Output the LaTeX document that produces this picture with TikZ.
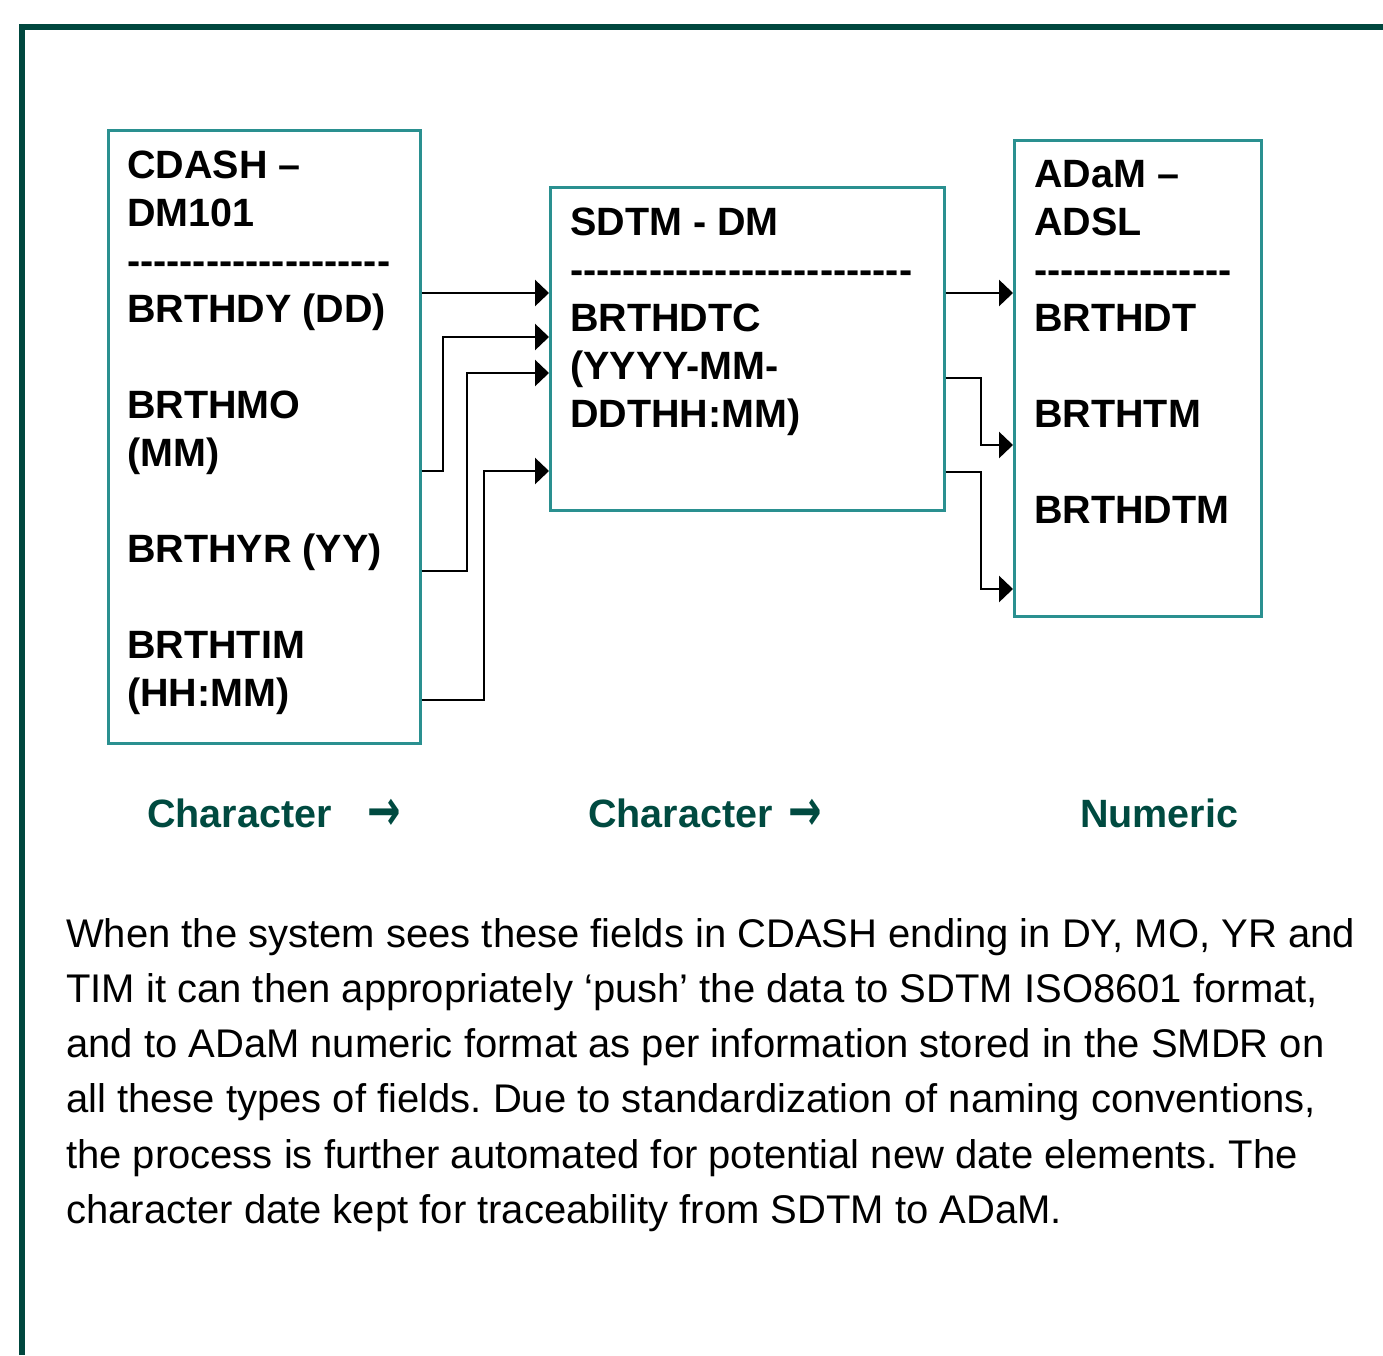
\documentclass[tikz,border=0pt]{standalone}
\usepackage{fontspec}
\setmainfont{Liberation Sans}
\newfontfamily\nolig{Liberation Sans}[Ligatures=TeXOff]
\newfontfamily\arrowfont{DejaVu Sans}
\usetikzlibrary{arrows.meta}
\definecolor{framecol}{HTML}{00473E}
\definecolor{boxcol}{HTML}{2A9090}
\definecolor{labcol}{HTML}{004A40}
\frenchspacing
\begin{document}
\begin{tikzpicture}[x=1pt,y=-1pt,
  box/.style={draw=boxcol, line width=2.6pt, anchor=north west, inner sep=0pt},
  hd/.style={anchor=base west, inner sep=0pt, font=\fontsize{39.5}{48}\selectfont\bfseries},
  dashline/.style={anchor=base west, inner sep=0pt, font=\nolig\fontsize{39.5}{48}\selectfont\bfseries},
  lab/.style={anchor=base west, inner sep=0pt, text=labcol, font=\fontsize{39.5}{48}\selectfont\bfseries},
  arr/.style={anchor=base west, inner sep=0pt, text=labcol, font=\arrowfont\fontsize{40}{48}\selectfont\bfseries},
  body/.style={anchor=base west, inner sep=0pt, font=\fontsize{40}{55}\selectfont},
  conn/.style={line width=2.8pt, -{Triangle[length=14pt,width=26pt]}},
  frame/.style={draw=framecol, line width=6pt, line join=miter}]
\useasboundingbox (0,0) rectangle (1383,1355);
% outer frame (open at right and bottom)
\draw[frame] (22,1355) -- (22,27) -- (1383,27);
% boxes
\node[box, minimum width=312pt, minimum height=613pt] (cdash) at (107,129) {};
\node[box, minimum width=394pt, minimum height=323pt] (sdtm) at (549,186) {};
\node[box, minimum width=247pt, minimum height=476pt] (adam) at (1013,139) {};
% CDASH text
\node[hd] (c1) at (127,178) {CDASH –};
\node[hd] (c2) at (127,226) {DM101};
\node[dashline] (c3) at (127,274) {--------------------};
\node[hd] (c4) at (127,322) {BRTHDY (DD)};
\node[hd] (c5) at (127,418) {BRTHMO};
\node[hd] (c6) at (127,466) {(MM)};
\node[hd] (c7) at (127,562) {BRTHYR (YY)};
\node[hd] (c8) at (127,658) {BRTHTIM};
\node[hd] (c9) at (127,706) {(HH:MM)};
% SDTM text
\node[hd] (s1) at (570,235) {SDTM - DM};
\node[dashline] (s2) at (570,283) {--------------------------};
\node[hd] (s3) at (570,331) {BRTHDTC};
\node[hd] (s4) at (570,379) {(YYYY-MM-};
\node[hd] (s5) at (570,427) {DDTHH:MM)};
% ADaM text
\node[hd] (a1) at (1034,187) {ADaM –};
\node[hd] (a2) at (1034,235) {ADSL};
\node[dashline] (a3) at (1034,283) {---------------};
\node[hd] (a4) at (1034,331) {BRTHDT};
\node[hd] (a5) at (1034,427) {BRTHTM};
\node[hd] (a6) at (1034,523) {BRTHDTM};
% connectors
\draw[conn] (cdash.east |- 0,293) -- (sdtm.west |- 0,293);
\draw[conn] (cdash.east |- 0,471) -| (443,337) -- (sdtm.west |- 0,337);
\draw[conn] (cdash.east |- 0,571) -| (467,373) -- (sdtm.west |- 0,373);
\draw[conn] (cdash.east |- 0,700) -| (484,471) -- (sdtm.west |- 0,471);
\draw[conn] (sdtm.east |- 0,293) -- (adam.west |- 0,293);
\draw[conn] (sdtm.east |- 0,378) -| (981,445) -- (adam.west |- 0,445);
\draw[conn] (sdtm.east |- 0,472) -| (981,589) -- (adam.west |- 0,589);
% type labels
\node[lab] (l1) at (147,827) {Character};
\node[arr] (l1a) at (367,830) {\scalebox{1}[1.45]{→}};
\node[lab] (l2) at (588,827) {Character};
\node[arr] (l2a) at (788,830) {\scalebox{1}[1.45]{→}};
\node[lab] (l3) at (1080,827) {Numeric};
% body text
\node[body] (b1) at (66,947) {When the system sees these fields in CDASH ending in DY, MO, YR and};
\node[body] (b2) at (66,1002) {TIM it can then appropriately ‘push’ the data to SDTM ISO8601 format,};
\node[body] (b3) at (66,1057) {and to ADaM numeric format as per information stored in the SMDR on};
\node[body] (b4) at (66,1112) {all these types of fields. Due to standardization of naming conventions,};
\node[body] (b5) at (66,1168) {the process is further automated for potential new date elements. The};
\node[body] (b6) at (66,1223) {character date kept for traceability from SDTM to ADaM.};
\end{tikzpicture}
\end{document}
